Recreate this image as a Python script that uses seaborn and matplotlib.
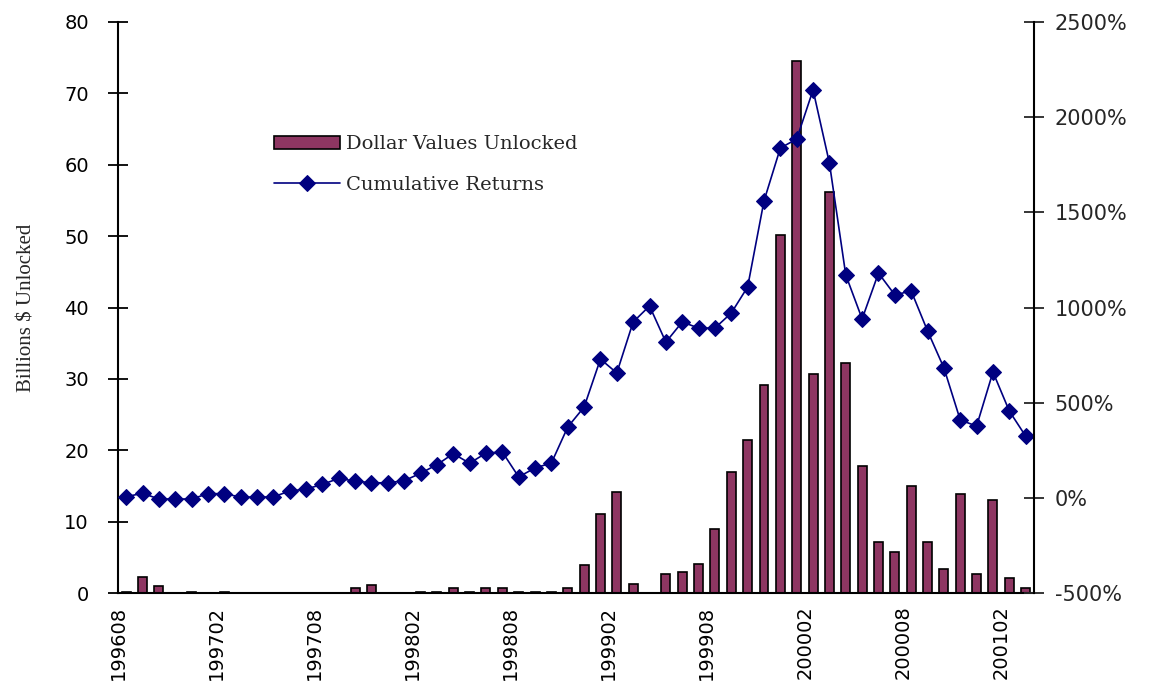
import numpy as np
import matplotlib
matplotlib.use("Agg")
import matplotlib.pyplot as plt
import seaborn as sns
from matplotlib.ticker import FuncFormatter

sns.set_style("white")
plt.rcParams['font.family'] = ['DejaVu Sans']

# Months 199608 .. 200103
months = []
for y in range(1996, 2002):
    for m in range(1, 13):
        k = y * 100 + m
        if 199608 <= k <= 200103:
            months.append(str(k))

# Dollar values unlocked (billions)
dollars = [0.2, 2.2, 1.0, 0.0, 0.2, 0.0, 0.2, 0.0, 0.0, 0.0,
           0.0, 0.0, 0.0, 0.0, 0.75, 1.1, 0.0, 0.0, 0.2, 0.2,
           0.75, 0.2, 0.75, 0.75, 0.2, 0.2, 0.2, 0.75, 3.9, 11.1,
           14.2, 1.3, 0.0, 2.7, 3.0, 4.1, 8.9, 17.0, 21.5, 29.1,
           50.1, 74.5, 30.7, 56.2, 32.2, 17.8, 7.1, 5.8, 15.0, 7.1,
           3.3, 13.9, 2.7, 13.1, 2.1, 0.75]

# Cumulative returns (%)
cum_returns = [6, 24, -6, -6, -6, 22, 22, 4, 4, 5,
               36, 46, 71, 102, 88, 79, 79, 90, 129, 174,
               232, 182, 235, 241, 110, 157, 183, 372, 477, 729,
               656, 924, 1008, 818, 924, 892, 892, 971, 1108, 1560,
               1838, 1885, 2143, 1759, 1171, 940, 1181, 1066, 1087, 877,
               683, 409, 377, 661, 456, 324]

label_every = 6

fig = plt.figure(figsize=(11.5, 6.98), dpi=100)
ax = fig.add_axes([0.1026, 0.1504, 0.7964, 0.8181])

sns.barplot(x=months, y=dollars, ax=ax, color="#8e3662", saturation=1,
            width=0.55, edgecolor="black", linewidth=1.2,
            label="Dollar Values Unlocked")
ax.set_xlim(-0.5, len(months) - 0.5)
ax.set_ylim(0, 80)
ax.set_yticks(range(0, 81, 10))
ax.set_ylabel("Billions $ Unlocked", family="Liberation Serif", fontsize=15, labelpad=20)

tick_pos = [i - 0.5 for i in range(0, len(months), label_every)]
ax.set_xticks(tick_pos)
ax.set_xticklabels([months[i] for i in range(0, len(months), label_every)],
                   rotation=90, fontsize=14)
ax.set_xlabel("")
ax.tick_params(axis="both", direction="inout", length=14, width=1.3, colors="black")
ax.tick_params(axis="y", labelsize=14, pad=14)
ax.tick_params(axis="x", pad=2)

ax2 = ax.twinx()
sns.lineplot(x=np.arange(len(months)), y=cum_returns, ax=ax2, color="#000080",
             marker="D", markersize=8, markeredgecolor="#000080", linewidth=1.2,
             label="Cumulative Returns")
ax2.set_ylim(-500, 2500)
ax2.set_yticks(range(-500, 2501, 500))
ax2.yaxis.set_major_formatter(FuncFormatter(lambda v, p: f"{int(v)}%"))
ax2.tick_params(axis="y", direction="inout", length=14, width=1.3, labelsize=15, pad=8)
ax2.set_ylabel("")
ax2.set_xlim(-0.5, len(months) - 0.5)

for a in (ax, ax2):
    a.spines["top"].set_visible(False)
    for s in ("left", "right", "bottom"):
        a.spines[s].set_color("black")
        a.spines[s].set_linewidth(1.5)
ax.spines["right"].set_visible(False)
ax2.spines["left"].set_visible(False)
ax2.spines["bottom"].set_visible(False)

h1, l1 = ax.get_legend_handles_labels()
h2, l2 = ax2.get_legend_handles_labels()
if ax2.get_legend():
    ax2.get_legend().remove()
if ax.get_legend():
    ax.get_legend().remove()
ax2.legend(h1 + h2, l1 + l2, loc="upper left", bbox_to_anchor=(0.238, 0.806),
           bbox_transform=fig.transFigure, frameon=False, handlelength=3.4,
           handletextpad=0.3, labelspacing=1.15, borderpad=0, borderaxespad=0,
           prop={"family": "DejaVu Serif", "size": 14})

fig.savefig("out.png", dpi=100)
